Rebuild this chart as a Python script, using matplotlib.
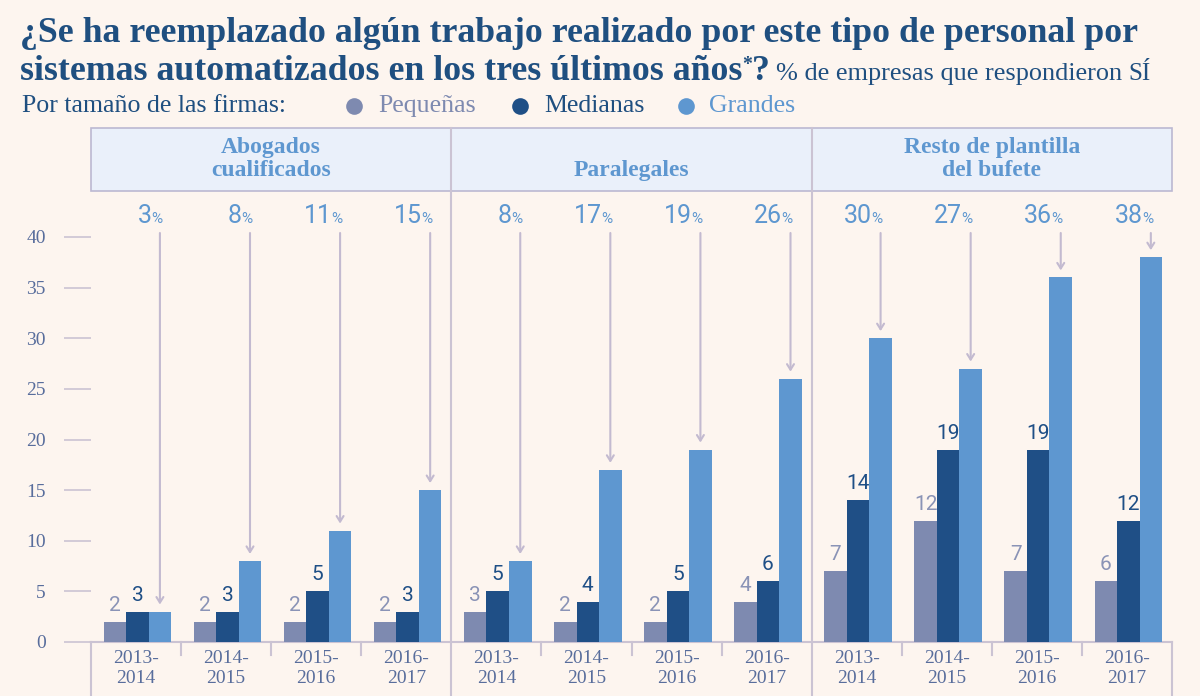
import matplotlib
matplotlib.use("Agg")
import matplotlib.pyplot as plt
from matplotlib.patches import Rectangle
from matplotlib.lines import Line2D

# datos
grupos = ["Abogados\ncualificados", "Paralegales", "Resto de plantilla\ndel bufete"]
periodos = ["2013-\n2014", "2014-\n2015", "2015-\n2016", "2016-\n2017"]
series = ["Pequeñas", "Medianas", "Grandes"]
pequenas = [2, 2, 2, 2, 3, 2, 2, 4, 7, 12, 7, 6]
medianas = [3, 3, 5, 3, 5, 4, 5, 6, 14, 19, 19, 12]
grandes = [3, 8, 11, 15, 8, 17, 19, 26, 30, 27, 36, 38]

BG = "#fdf5ef"
C_PEQ = "#7e8ab0"
C_MED = "#1f4f86"
C_GRA = "#5e97d0"
TITULO = "#1f4f80"
LINEA = "#cbc3d3"
FLECHA = "#c3bad0"
GRIS_TXT = "#586d9c"
SERIF = ["Liberation Serif", "DejaVu Serif"]

W, H = 1200, 696
fig = plt.figure(figsize=(12, 6.96), dpi=100)
fig.patch.set_facecolor(BG)
rend = fig.canvas.get_renderer()


def fx(px):
    return px / W


def fy(py):
    return 1 - py / H


def fit(t, width):
    w = t.get_window_extent(rend).width
    t.set_fontsize(t.get_fontsize() * width / w)


def right_px(t):
    return t.get_window_extent(rend).x1


# titulo
t1 = fig.text(fx(20), fy(42), "¿Se ha reemplazado algún trabajo realizado por este tipo de personal por",
              family=SERIF, weight="bold", color=TITULO, fontsize=24, va="baseline")
fit(t1, 1120)
fs = t1.get_fontsize()
t2 = fig.text(fx(20), fy(80), "sistemas automatizados en los tres últimos años",
              family=SERIF, weight="bold", color=TITULO, fontsize=fs, va="baseline")
x = right_px(t2)
t3 = fig.text(x / W, fy(70), "*", family=SERIF, weight="bold", color=TITULO, fontsize=fs * 0.55, va="baseline")
x = right_px(t3)
t4 = fig.text(x / W, fy(80), "?", family=SERIF, weight="bold", color=TITULO, fontsize=fs, va="baseline")
x = right_px(t4) + 6
t5 = fig.text(x / W, fy(80), "% de empresas que respondieron", family=SERIF, color=TITULO,
              fontsize=14, va="baseline")
fit(t5, 1124 - x)
fig.text(fx(1128), fy(80), "SÍ", family=SERIF, color=TITULO, fontsize=18, va="baseline")

# leyenda
tl = fig.text(fx(22), fy(112), "Por tamaño de las firmas:", family=SERIF, color=TITULO,
              fontsize=16, va="baseline")
fit(tl, 265)
for nombre, col, cx, tx in zip(series, [C_PEQ, C_MED, C_GRA], [354, 520, 686], [378, 544, 709]):
    fig.add_artist(Line2D([fx(cx)], [fy(106)], marker="o", markersize=12, color=col,
                          markeredgewidth=0, transform=fig.transFigure))
    fig.text(fx(tx), fy(112), nombre, family=SERIF, color=col if nombre != "Medianas" else TITULO,
             fontsize=tl.get_fontsize(), va="baseline")

# ejes
px_unit = 10.125
ytop = (642 - 191) / px_unit
ybox = (642 - 128) / px_unit
ybot = -(696 - 642) / px_unit
ax = fig.add_axes([fx(91), fy(642), fx(1172) - fx(91), fy(191) - fy(642)])
ax.set_facecolor("none")
ax.set_xlim(0, 12)
ax.set_ylim(0, ytop)
for s in ax.spines.values():
    s.set_visible(False)
ax.set_xticks([])
ax.set_yticks(range(0, 45, 5))
ax.tick_params(axis="y", length=19.5, width=1.2, color=LINEA, pad=13, labelsize=14,
               labelcolor=GRIS_TXT)
for lab in ax.get_yticklabels():
    lab.set_family(SERIF)

# caja de cabecera
ax.add_patch(Rectangle((0, ytop), 12, ybox - ytop, facecolor="#eaf0fa", edgecolor="#bcb8d2",
                       lw=1.2, clip_on=False, zorder=1))
for g, nombre in enumerate(grupos):
    ax.text(g * 4 + 2, (642 - 181) / px_unit, nombre, ha="center", va="bottom", family=SERIF,
            weight="bold", color=C_GRA, fontsize=17, linespacing=1.1, clip_on=False)

# lineas de separacion
ax.plot([0, 12], [0, 0], color=LINEA, lw=1.5, clip_on=False, zorder=2)
for xv in [0, 12]:
    ax.plot([xv, xv], [ybot, 0], color=LINEA, lw=1.5, clip_on=False)
for xv in [4, 8]:
    ax.plot([xv, xv], [ybot, ybox], color=LINEA, lw=1.5, clip_on=False, zorder=2)
for xv in [1, 2, 3, 5, 6, 7, 9, 10, 11]:
    ax.plot([xv, xv], [-(655 - 642) / px_unit, 0], color=LINEA, lw=1.5, clip_on=False)

# barras
idx = list(range(12))
bw = 0.25
x_peq = [i + 0.265 for i in idx]
x_med = [i + 0.515 for i in idx]
x_gra = [i + 0.765 for i in idx]
ax.bar(x_peq, pequenas, bw, color=C_PEQ, zorder=3)
ax.bar(x_med, medianas, bw, color=C_MED, zorder=3)
ax.bar(x_gra, grandes, bw, color=C_GRA, zorder=3)

for i in idx:
    ax.annotate(str(pequenas[i]), (x_peq[i], pequenas[i]), xytext=(0, 5), textcoords="offset points",
                ha="center", va="bottom", family="Roboto", fontsize=15, color="#8a93b6")
    ax.annotate(str(medianas[i]), (x_med[i], medianas[i]), xytext=(0, 5), textcoords="offset points",
                ha="center", va="bottom", family="Roboto", fontsize=15, color=C_MED)
    # porcentaje grandes con flecha
    ylab = (642 - 223) / px_unit
    ax.annotate(str(grandes[i]), (x_gra[i], ylab), xytext=(-6, 0), textcoords="offset points",
                ha="right", va="baseline", family="Roboto", fontsize=18,
                color=C_GRA, annotation_clip=False)
    ax.annotate("%", (x_gra[i], ylab), xytext=(-6.5, 0), textcoords="offset points",
                ha="left", va="baseline", family="Roboto", fontsize=11,
                color=C_GRA, annotation_clip=False)
    ax.annotate("", xy=(x_gra[i], grandes[i] + 0.7), xytext=(x_gra[i], (642 - 233) / px_unit),
                arrowprops=dict(arrowstyle="->,head_length=0.4,head_width=0.25", color=FLECHA,
                                lw=1.5, shrinkA=0, shrinkB=0), annotation_clip=False)

# etiquetas de periodo
for i in idx:
    ax.text(i + 0.5, -(650 - 642) / px_unit, periodos[i % 4], ha="center", va="top",
            family=SERIF, fontsize=14, color=GRIS_TXT, linespacing=1.2, clip_on=False)

fig.savefig("out.png", dpi=100, facecolor=BG)
